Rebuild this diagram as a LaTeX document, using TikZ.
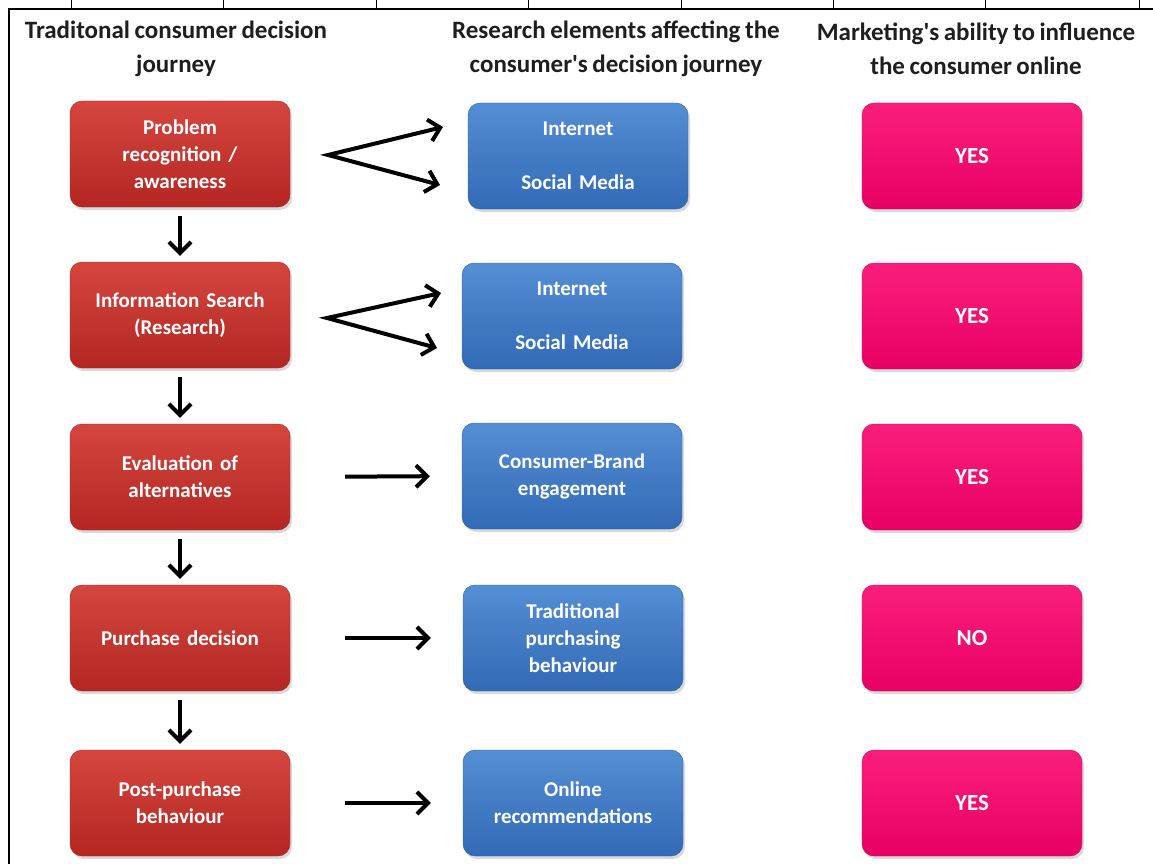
\documentclass[tikz,border=0pt]{standalone}
\usepackage{fontspec}
\setmainfont{Carlito}[Ligatures=TeXOff, WordSpace=0.8]
\usetikzlibrary{arrows.meta,shadows}

\definecolor{redtop}{RGB}{212,70,62}
\definecolor{redbot}{RGB}{180,38,34}
\definecolor{bluetop}{RGB}{84,142,212}
\definecolor{bluebot}{RGB}{50,106,182}
\definecolor{pinktop}{RGB}{250,30,124}
\definecolor{pinkbot}{RGB}{232,0,100}
\definecolor{headgrey}{RGB}{30,30,30}

\tikzset{
	box/.style={rounded corners=12pt, minimum width=220pt, minimum height=106pt,
		text width=210pt, align=center, text=white,
		font=\bfseries\fontsize{21}{27}\selectfont,
		drop shadow={opacity=0.3, shadow xshift=2pt, shadow yshift=-3pt}},
	redbox/.style={box, top color=redtop, bottom color=redbot, draw=redbot!90!black},
	bluebox/.style={box, top color=bluetop, bottom color=bluebot, draw=bluebot!90!black},
	pinkbox/.style={box, top color=pinktop, bottom color=pinkbot, draw=pinkbot!90!black,
		font=\bfseries\fontsize{23}{27}\selectfont},
	headtext/.style={align=center, text=headgrey, font=\bfseries\fontsize{25}{34}\selectfont},
	arr/.style={-{Straight Barb[length=11pt,width=22pt]}, line width=4pt},
	fork/.style={{Straight Barb[length=11pt,width=22pt]}-{Straight Barb[length=11pt,width=22pt]},
		line width=4pt, line join=miter},
}

\begin{document}
\begin{tikzpicture}[x=1pt, y=-1pt]
\useasboundingbox (0,0) rectangle (1153,864);

% frame of the table
\draw[line width=1.6pt] (9,864) -- (9,9) -- (1153,9);
\foreach \x in {71,223,376,528,681,833,985,1139}
	\draw[line width=0.6pt] (\x,0) -- (\x,9);

% column heads
\node[headtext] (h1) at (176,49) {Traditonal consumer decision\\journey};
\node[headtext] (h2) at (616,49) {Research elements affecting the\\consumer's decision journey};
\node[headtext] (h3) at (976,49) {Marketing's ability to influence\\the consumer online};

% decision journey
\node[redbox] (p1) at (180,154) {Problem\\recognition /\\awareness};
\node[redbox] (p2) at (180,315) {Information Search\\(Research)};
\node[redbox] (p3) at (180,477) {Evaluation of\\alternatives};
\node[redbox] (p4) at (180,638) {Purchase decision};
\node[redbox] (p5) at (180,803) {Post-purchase\\behaviour};

% research elements
\node[bluebox] (e1) at (578,156) {Internet\\[27pt]Social Media};
\node[bluebox] (e2) at (572,316) {Internet\\[27pt]Social Media};
\node[bluebox] (e3) at (572,476) {Consumer-Brand\\engagement};
\node[bluebox] (e4) at (573,638) {Traditional\\purchasing\\behaviour};
\node[bluebox] (e5) at (573,803) {Online\\recommendations};

% influence online
\node[pinkbox] (m1) at (972,156) {YES};
\node[pinkbox] (m2) at (972,316) {YES};
\node[pinkbox] (m3) at (972,477) {YES};
\node[pinkbox] (m4) at (972,638) {NO};
\node[pinkbox] (m5) at (972,803) {YES};

% steps down the journey
\foreach \a/\b in {p1/p2,p2/p3,p3/p4,p4/p5}
	\draw[arr, shorten <=9pt, shorten >=6pt] (\a.south) -- (\b.north);

% forks to internet / social media
\coordinate (f1) at (328,155);
\coordinate (f1a) at (443,127);
\coordinate (f1b) at (440,185);
\coordinate (f2) at (327,318);
\coordinate (f2a) at (441,293);
\coordinate (f2b) at (437,348);
\draw[fork] (f1a) -- (f1) -- (f1b);
\draw[fork] (f2a) -- (f2) -- (f2b);

% single arrows
\foreach \a/\b in {p3/e3,p4/e4,p5/e5}
	\draw[arr, shorten <=55pt, shorten >=32pt] (\a.east) -- (\b.west);
\end{tikzpicture}
\end{document}
